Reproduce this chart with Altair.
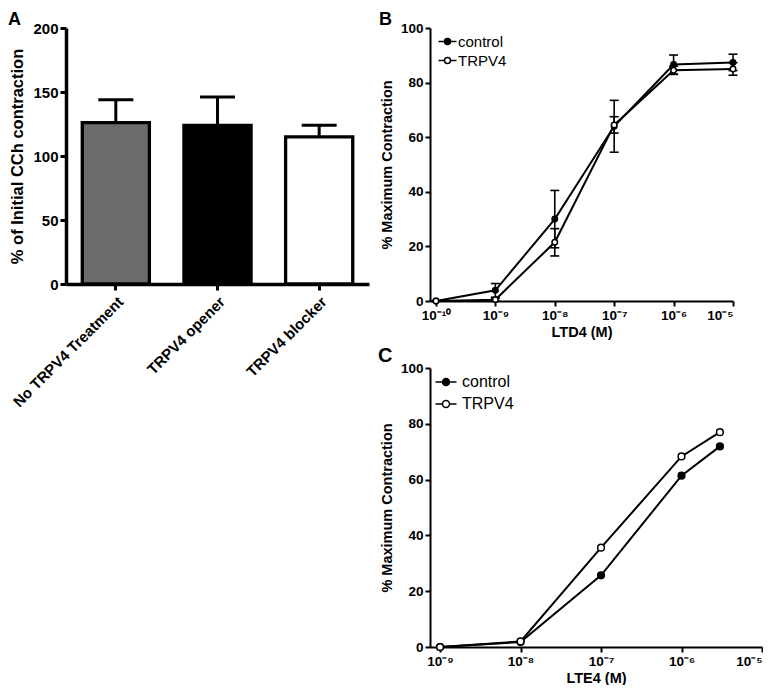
import math
import altair as alt
import pandas as pd

FONT = "Liberation Sans"

# ---------------- Panel A data ----------------
a_groups = ["No TRPV4 Treatment", "TRPV4 opener", "TRPV4 blocker"]
a_means = [126, 124, 115]
a_sem = [18, 22, 9]
a_fill = ["#6b6b6b", "#000000", "#ffffff"]

# ---------------- Panel B data (LTD4) ----------------
b_conc = [1e-10, 1e-9, 1e-8, 1e-7, 1e-6, 1e-5]
b_ctrl = [0, 3.9, 30, 64, 86.6, 87.4]
b_ctrl_sem = [0, 2.5, 10.5, 9.5, 3.5, 3.0]
b_trpv4 = [0, 0.5, 21.5, 64.5, 84.5, 85.0]
b_trpv4_sem = [0, 0.5, 5.0, 3.0, 1.5, 2.3]
b_ticks = [1e-10, 1e-9, 1e-8, 1e-7, 1e-6, 1e-5]

# ---------------- Panel C data (LTE4) ----------------
c_conc = [1e-9, 1e-8, 1e-7, 1e-6, 3e-6]
c_ctrl = [0, 1.8, 25.7, 61.4, 71.9]
c_trpv4 = [0, 2.0, 35.6, 68.3, 77.0]
c_ticks = [1e-9, 1e-8, 1e-7, 1e-6, 1e-5]

groups = ["control", "TRPV4"]
y_ticks = [0, 20, 40, 60, 80, 100]

SUP = str.maketrans("-0123456789", "⁻⁰¹²³⁴⁵⁶⁷⁸⁹")


def tick_label(t):
    return "10" + str(round(math.log10(t))).translate(SUP)


def sup_label_expr(ticks):
    parts = [f"datum.value < {t * 3:g} ? '{tick_label(t)}'" for t in ticks[:-1]]
    return " : ".join(parts) + f" : '{tick_label(ticks[-1])}'"


# ---------------- Panel A ----------------
dfA = pd.DataFrame({
    "group": a_groups,
    "mean": a_means,
    "hi": [m + s for m, s in zip(a_means, a_sem)],
    "fill": a_fill,
})

axA_common = dict(domainWidth=3.5, tickWidth=3, tickSize=6, domainColor="black",
                  tickColor="black")
xA = alt.X("group:N", sort=a_groups, title=None,
           scale=alt.Scale(paddingInner=0.34, paddingOuter=0.16),
           axis=alt.Axis(labelAngle=-45, labelFontSize=15, labelPadding=4, **axA_common))
yA_axis = alt.Axis(values=[0, 50, 100, 150, 200], labelFontSize=15, labelPadding=2,
                   titleFontSize=16.5, titlePadding=7, **axA_common)
yA_title = "% of Initial CCh contraction"
yA_scale = alt.Scale(domain=[0, 200], nice=False)

barsA = alt.Chart(dfA).mark_bar(stroke="black", strokeWidth=3.3).encode(
    x=xA,
    y=alt.Y("mean:Q", scale=yA_scale, axis=yA_axis, title=yA_title),
    fill=alt.Fill("fill:N", scale=None),
)
errA = alt.Chart(dfA).mark_rule(color="black", strokeWidth=3).encode(
    x=xA,
    y=alt.Y("mean:Q", scale=yA_scale, axis=yA_axis, title=yA_title),
    y2="hi:Q",
)
capA = alt.Chart(dfA).mark_tick(color="black", size=35, thickness=3, opacity=1).encode(
    x=xA,
    y=alt.Y("hi:Q", scale=yA_scale, axis=yA_axis, title=yA_title),
)
A = alt.layer(barsA, errA, capA).properties(
    width=303, height=256,
    title=alt.TitleParams("A", anchor="start", frame="group", dx=-58, fontSize=18,
                          offset=-8),
)

# ---------------- Dose-response panels ----------------
SYM = "M-3,0H-1M1,0H3M-1,0A1,1,0,1,0,1,0A1,1,0,1,0,-1,0Z"


def build_df(conc, series, sems):
    rows = []
    for g, means, sd in zip(groups, series, sems):
        for c, m, s in zip(conc, means, sd):
            rows.append({"conc": c, "mean": m, "lo": max(m - s, 0), "hi": m + s, "group": g})
    return pd.DataFrame(rows)


def dose_panel(df, domain, ticks, xtitle, letter, width, height, psize, sym_size,
               legend_x, legend_y, label_size, row_pad, label_off, title_dx, title_size,
               title_offset, err=True):
    x_axis = alt.Axis(values=ticks, labelExpr=sup_label_expr(ticks), title=xtitle,
                      labelFontSize=13.5, titleFontSize=14.5, domainWidth=2, tickWidth=2,
                      tickSize=5, labelPadding=2, titlePadding=4)
    x_scale = alt.Scale(type="log", domain=domain, nice=False)
    y_axis = alt.Axis(values=y_ticks, labelFontSize=13.5, titleFontSize=14.5, domainWidth=2,
                      tickWidth=2, tickSize=5, labelPadding=2, titlePadding=6)
    y_scale = alt.Scale(domain=[0, 100], nice=False)
    ytitle = "% Maximum Contraction"

    def X():
        return alt.X("conc:Q", scale=x_scale, axis=x_axis, title=xtitle)

    def Y(field):
        return alt.Y(f"{field}:Q", scale=y_scale, axis=y_axis, title=ytitle)

    layers = []
    if err:
        layers.append(alt.Chart(df).mark_rule(color="black", strokeWidth=1.6).encode(
            x=X(), y=Y("lo"), y2="hi:Q"))
        for f in ["lo", "hi"]:
            layers.append(alt.Chart(df).mark_rule(color="black", strokeWidth=1.6,
                                                  xOffset=-4.5, x2Offset=4.5).encode(
                x=X(), x2="conc:Q", y=Y(f)))
    layers.append(alt.Chart(df).mark_line(color="black", strokeWidth=2).encode(
        x=X(), y=Y("mean"), detail="group:N"))
    layers.append(alt.Chart(df).mark_point(shape="circle", filled=True, stroke="black",
                                           strokeWidth=1.5, size=psize, opacity=1).encode(
        x=X(), y=Y("mean"),
        fill=alt.Fill("group:N", scale=alt.Scale(domain=groups, range=["black", "white"]),
                      legend=alt.Legend(title=None, orient="none", legendX=legend_x,
                                        legendY=legend_y, symbolType=SYM,
                                        symbolSize=sym_size, symbolStrokeColor="black",
                                        symbolStrokeWidth=1.5, labelFont=FONT,
                                        labelFontSize=label_size, labelFontWeight="normal",
                                        labelColor="black", labelOffset=label_off,
                                        rowPadding=row_pad, padding=0)),
    ))
    return alt.layer(*layers).properties(
        width=width, height=height,
        title=alt.TitleParams(letter, anchor="start", frame="group", dx=title_dx,
                              fontSize=title_size, offset=title_offset),
    )


dfB = build_df(b_conc, [b_ctrl, b_trpv4], [b_ctrl_sem, b_trpv4_sem])
dfC = build_df(c_conc, [c_ctrl, c_trpv4], [[0] * 5, [0] * 5])

B = dose_panel(dfB, [10 ** -10.1, 1e-5], b_ticks, "LTD4 (M)", "B", 303, 273, 30, 36,
               10, 6, 15, 3, 3, -51, 18, -8)
C = dose_panel(dfC, [10 ** -9.125, 1e-5], c_ticks, "LTE4 (M)", "C", 332, 279, 45, 49,
               8, 6, 16, 6, 8, -52, 20, -5, err=False)

right = alt.vconcat(B, C, spacing=7).resolve_legend(fill="independent").resolve_scale(
    fill="independent")

chart = alt.hconcat(A, right, spacing=9).resolve_legend(fill="independent").properties(
    padding={"left": 0, "top": 3, "right": 0, "bottom": 0}
).configure_view(stroke=None).configure_axis(
    grid=False, domainColor="black", tickColor="black", labelColor="black",
    titleColor="black", labelFont=FONT, titleFont=FONT, labelFontWeight="bold",
    titleFontWeight="bold",
).configure_title(font=FONT, color="black", fontWeight="bold").configure_legend(
    labelFont=FONT
)

chart.save("out.html", embed_options={"renderer": "svg", "actions": False})
